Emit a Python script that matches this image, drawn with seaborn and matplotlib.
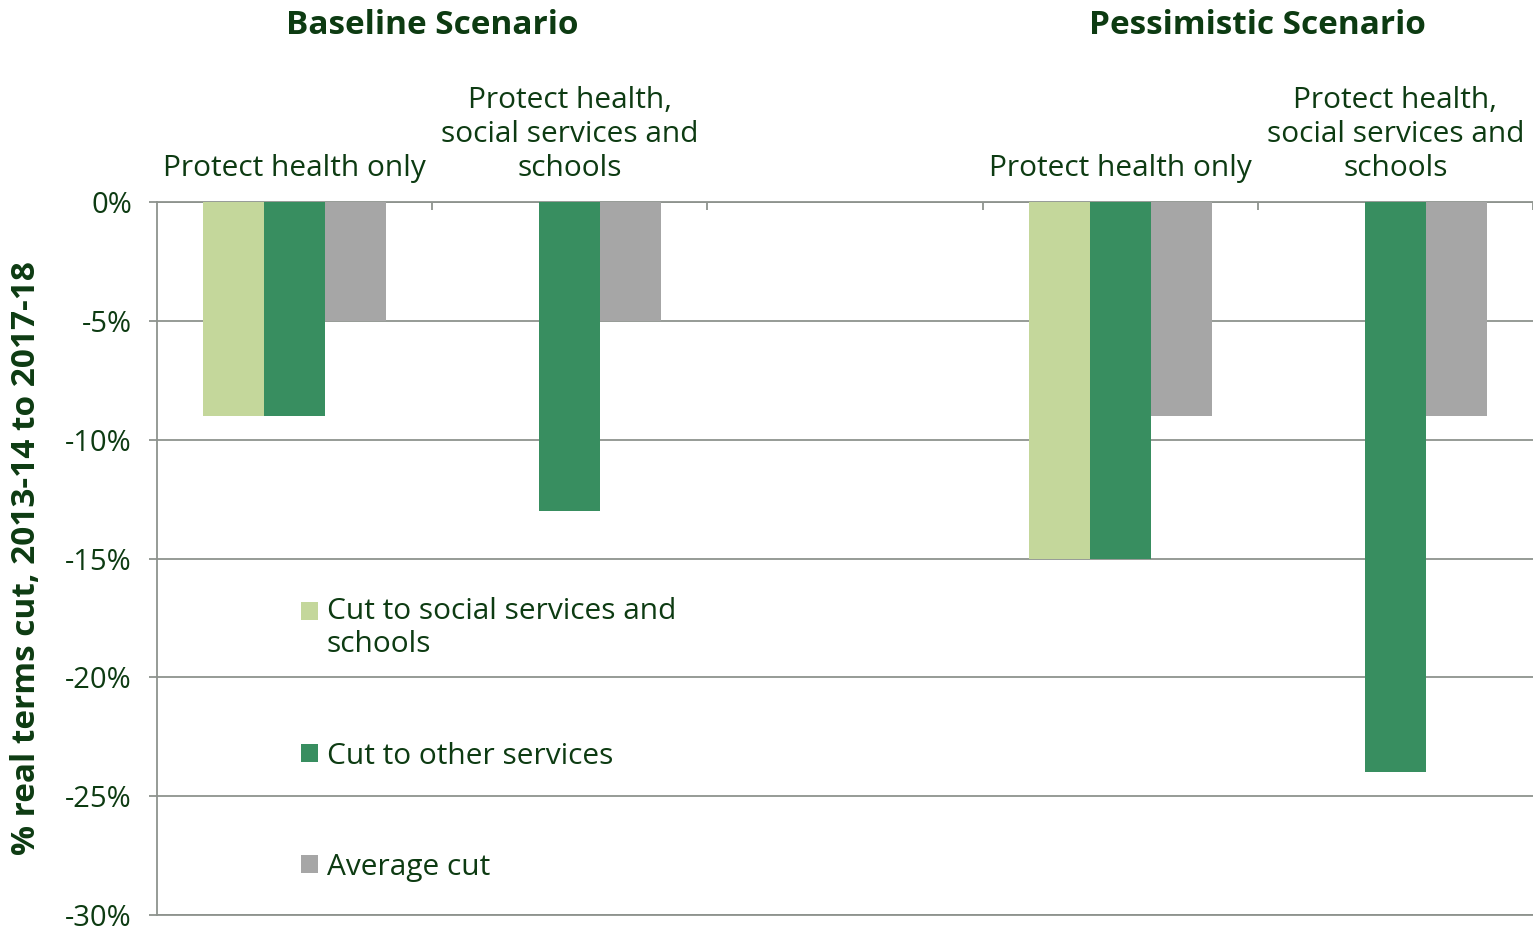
import pandas as pd
import matplotlib.pyplot as plt
import matplotlib.transforms as mtransforms
from matplotlib.patches import Rectangle
from matplotlib.legend_handler import HandlerPatch
import seaborn as sns

# data
scenarios = ["Baseline Scenario", "Pessimistic Scenario"]
policies = ["Protect health only", "Protect health,\nsocial services and\nschools"]
series = ["Cut to social services and\nschools", "Cut to other services", "Average cut"]
slots = ["base_health", "base_all", "gap", "pess_health", "pess_all"]
slot_labels = [policies[0], policies[1], "", policies[0], policies[1]]

social_cut = [-9, None, -15, None]
other_cut = [-9, -13, -15, -24]
average_cut = [-5, -5, -9, -9]

colors = ["#C4D79B", "#388E60", "#A6A6A6"]
text_color = "#0D3B12"
grid_color = "#8E938E"

data_slots = ["base_health", "base_all", "pess_health", "pess_all"]
rows = []
for name, values in zip(series, [social_cut, other_cut, average_cut]):
    for slot, v in zip(data_slots, values):
        if v is not None:
            rows.append({"slot": slot, "series": name, "cut": v})
df = pd.DataFrame(rows)

sns.set_style("white")
plt.rcParams["font.family"] = ["Open Sans", "DejaVu Sans"]

fig = plt.figure(figsize=(15.33, 9.31), dpi=100)
ax = fig.add_axes([0.1024, 0.0172, 0.8976, 0.7658])

sns.barplot(data=df, x="slot", y="cut", hue="series", order=slots, hue_order=series,
            palette=colors, saturation=1, width=0.665, linewidth=0, ax=ax, zorder=3)

ax.set_xlim(-0.5, 4.5)
ax.set_ylim(-30, 0)
ax.set_yticks(range(-30, 1, 5))
ax.set_yticklabels([f"{v}%" for v in range(-30, 1, 5)])
ax.yaxis.grid(True, color=grid_color, linewidth=1.3, zorder=0)
ax.set_axisbelow(True)

for side in ["top", "bottom", "left"]:
    ax.spines[side].set_color(grid_color)
    ax.spines[side].set_linewidth(1.3)
ax.spines["right"].set_visible(False)

ax.tick_params(axis="y", length=6, width=1.3, color=grid_color, pad=12,
               labelsize=21, labelcolor=text_color, left=True)

ax.xaxis.tick_top()
ax.set_xticks(range(len(slots)))
ax.set_xticklabels(slot_labels)
ax.tick_params(axis="x", which="major", length=0, pad=14, labelsize=21.5, labelcolor=text_color)
for lbl in ax.get_xticklabels():
    lbl.set_multialignment("center")
    lbl.set_linespacing(1.22)
ax.set_xticks([0.5, 1.5, 2.5, 3.5, 4.5], minor=True)
ax.tick_params(axis="x", which="minor", direction="in", length=6, width=1.3,
               color=grid_color, top=True, bottom=False)
ax.set_xlabel("")

ax.set_ylabel("% real terms cut, 2013-14 to 2017-18", fontsize=24, fontweight="bold",
              color=text_color)
ax.yaxis.set_label_coords(-0.083, 0.5)

trans = mtransforms.blended_transform_factory(ax.transData, fig.transFigure)
for xpos, title in zip([0.5, 3.5], scenarios):
    ax.text(xpos, 0.973, title, transform=trans, ha="center", va="center",
            fontsize=24, fontweight="bold", color=text_color)


# keep the swatch of the two-line entry next to its first line
def top_swatch(legend, orig_handle, xdescent, ydescent, width, height, fontsize):
    return Rectangle((-xdescent, -ydescent + 0.6 * fontsize), width, height)


handles, labels = ax.get_legend_handles_labels()
ax.legend(handles, labels, loc="upper left", bbox_to_anchor=(0.105, 0.446), frameon=False,
          fontsize=21.5, labelcolor=text_color, handlelength=0.55, handleheight=0.55,
          handletextpad=0.3, labelspacing=2.75, borderpad=0, borderaxespad=0,
          handler_map={handles[0]: HandlerPatch(patch_func=top_swatch)})

fig.savefig("out.png", dpi=100)
plt.close(fig)
